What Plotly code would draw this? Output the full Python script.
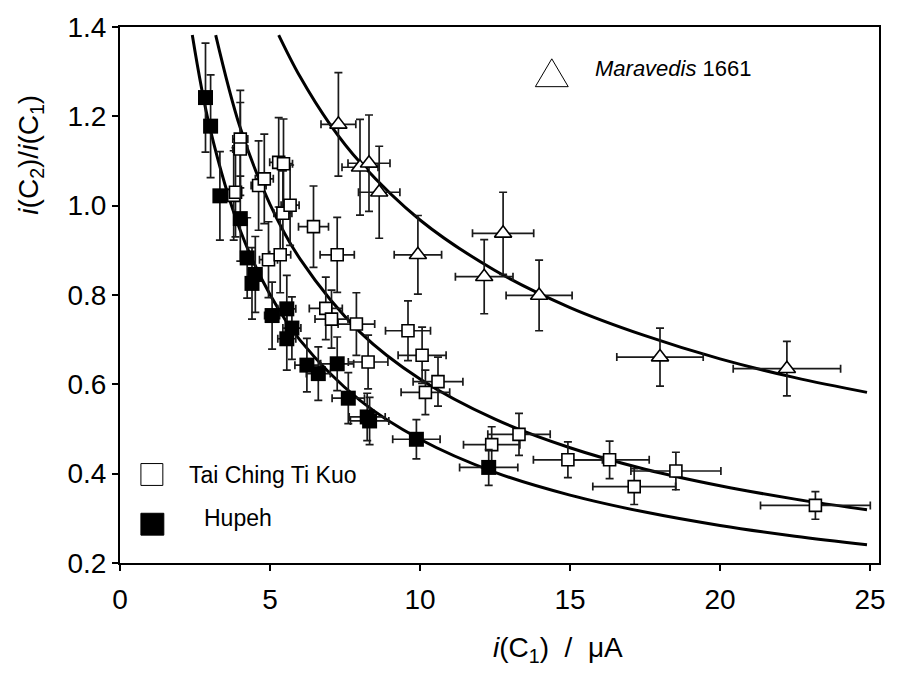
import plotly.graph_objects as go

# ---------------- data ----------------
hupeh_x = [2.85, 3.02, 3.33, 4.01, 4.24, 4.51, 4.40, 5.07, 5.56, 5.73, 5.56, 6.23, 6.61, 7.24, 7.61, 8.24, 8.32, 9.88, 12.29]
hupeh_y = [1.242, 1.178, 1.022, 0.971, 0.883, 0.846, 0.826, 0.754, 0.769, 0.726, 0.702, 0.643, 0.624, 0.646, 0.569, 0.527, 0.518, 0.477, 0.414]
hupeh_yerr = [0.122, 0.115, 0.099, 0.095, 0.09, 0.085, 0.08, 0.075, 0.075, 0.07, 0.07, 0.06, 0.06, 0.06, 0.057, 0.053, 0.053, 0.044, 0.04]
hupeh_xerr = [0.12, 0.12, 0.15, 0.15, 0.2, 0.2, 0.2, 0.25, 0.3, 0.3, 0.3, 0.4, 0.4, 0.55, 0.54, 0.6, 0.64, 0.79, 0.97]

tai_x = [3.79, 3.85, 4.01, 4.01, 4.62, 4.81, 5.29, 5.45, 5.43, 5.67, 4.95, 5.34, 6.45, 7.24, 6.86, 7.05, 7.88, 8.27, 9.60, 10.07, 10.60, 10.18, 12.39, 13.30, 14.93, 16.32, 17.14, 18.53, 23.18]
tai_y = [1.023, 1.030, 1.149, 1.127, 1.045, 1.060, 1.097, 1.094, 0.983, 1.001, 0.879, 0.890, 0.953, 0.890, 0.770, 0.746, 0.735, 0.650, 0.720, 0.665, 0.606, 0.582, 0.465, 0.488, 0.431, 0.431, 0.371, 0.406, 0.329]
tai_yerr = [0.1, 0.1, 0.109, 0.104, 0.1, 0.1, 0.1, 0.1, 0.095, 0.09, 0.085, 0.085, 0.091, 0.084, 0.07, 0.065, 0.07, 0.06, 0.067, 0.063, 0.055, 0.05, 0.04, 0.047, 0.04, 0.042, 0.04, 0.042, 0.031]
tai_xerr = [0.2, 0.2, 0.25, 0.25, 0.25, 0.3, 0.3, 0.3, 0.3, 0.3, 0.3, 0.35, 0.5, 0.57, 0.55, 0.55, 0.61, 0.66, 0.75, 0.8, 0.83, 0.81, 0.94, 1.04, 1.15, 1.32, 1.38, 1.5, 1.83]

mar_x = [7.28, 8.00, 8.30, 8.64, 9.93, 12.77, 12.14, 13.97, 18.0, 22.23]
mar_y = [1.182, 1.086, 1.095, 1.03, 0.89, 0.938, 0.841, 0.799, 0.661, 0.635]
mar_yerr = [0.116, 0.107, 0.108, 0.103, 0.088, 0.092, 0.083, 0.079, 0.065, 0.061]
mar_xerr = [0.58, 0.6, 0.7, 0.69, 0.79, 1.02, 0.96, 1.1, 1.44, 1.79]

# fitted curves
fit_hupeh_x = [2.41, 3, 4, 5, 6, 8, 10, 12.5, 15, 17.5, 20, 22.5, 24.9]
fit_hupeh_y = [1.382, 1.173, 0.946, 0.801, 0.699, 0.564, 0.477, 0.403, 0.352, 0.314, 0.284, 0.260, 0.241]
fit_tai_x = [3.19, 4, 5, 6, 8, 10, 12.5, 15, 17.5, 20, 22.5, 24.9]
fit_tai_y = [1.382, 1.176, 1.003, 0.881, 0.717, 0.612, 0.522, 0.458, 0.410, 0.373, 0.343, 0.319]
fit_mar_x = [5.29, 6, 7, 8, 10, 12.5, 15, 17.5, 20, 22.5, 24.9]
fit_mar_y = [1.382, 1.289, 1.182, 1.097, 0.968, 0.855, 0.772, 0.709, 0.657, 0.615, 0.582]

x_ticks = [0, 5, 10, 15, 20, 25]
y_ticks = [0.2, 0.4, 0.6, 0.8, 1.0, 1.2, 1.4]

FONT = "Liberation Sans, Arial, sans-serif"
ERRC = "#1a1a1a"

fig = go.Figure()

def err(arr):
    return dict(type="data", array=arr, visible=True, color=ERRC, thickness=1.7, width=4)

for fx, fy in [(fit_hupeh_x, fit_hupeh_y), (fit_tai_x, fit_tai_y), (fit_mar_x, fit_mar_y)]:
    fig.add_trace(go.Scatter(x=fx, y=fy, mode="lines", line=dict(color="black", width=3, shape="spline"),
                             hoverinfo="skip", showlegend=False))

fig.add_trace(go.Scatter(x=tai_x, y=tai_y, mode="markers", error_x=err(tai_xerr), error_y=err(tai_yerr),
                         marker=dict(symbol="square", size=12, color="white", line=dict(color="black", width=1.6)),
                         showlegend=False))
fig.add_trace(go.Scatter(x=hupeh_x, y=hupeh_y, mode="markers", error_x=err(hupeh_xerr), error_y=err(hupeh_yerr),
                         marker=dict(symbol="square", size=15, color="black", line=dict(width=0)),
                         showlegend=False))
fig.add_trace(go.Scatter(x=mar_x, y=mar_y, mode="markers", error_x=err(mar_xerr), error_y=err(mar_yerr),
                         marker=dict(symbol="triangle-up", size=15, color="white", line=dict(color="black", width=1.6)),
                         showlegend=False))

L, R, T, B = 120, 16, 24, 111
W, H = 898, 674
pw, ph = W - L - R, H - T - B

def px(xp):
    return (xp - L) / pw

def py(yp):
    return (H - B - yp) / ph

shapes = [
    dict(type="path", xref="paper", yref="paper",
         path=f"M {px(537)},{py(84)} L {px(570)},{py(84)} L {px(553.5)},{py(56)} Z",
         line=dict(color="black", width=1), fillcolor="white"),
    dict(type="rect", xref="paper", yref="paper", x0=px(141), x1=px(163), y0=py(485), y1=py(463),
         line=dict(color="black", width=1), fillcolor="white"),
    dict(type="rect", xref="paper", yref="paper", x0=px(141), x1=px(164), y0=py(535), y1=py(513),
         line=dict(color="black", width=1), fillcolor="black"),
]

annotations = [
    dict(text="<i>Maravedis</i> 1661", x=px(757), y=py(66), xref="paper", yref="paper",
         xanchor="right", yanchor="middle", showarrow=False, font=dict(size=22, color="black", family=FONT)),
    dict(text="Tai Ching Ti Kuo", x=px(187), y=py(475), xref="paper", yref="paper",
         xanchor="left", yanchor="middle", showarrow=False, font=dict(size=23, color="black", family=FONT)),
    dict(text="Hupeh", x=px(202), y=py(518), xref="paper", yref="paper",
         xanchor="left", yanchor="middle", showarrow=False, font=dict(size=23, color="black", family=FONT)),
    dict(text="<i>i</i>(C<sub>1</sub>)  /  μA", x=px(560), y=py(650), xref="paper", yref="paper",
         xanchor="center", yanchor="middle", showarrow=False, font=dict(size=28, color="black", family=FONT)),
    dict(text="<i>i</i>(C<sub>2</sub>)/<i>i</i>(C<sub>1</sub>)", x=px(30), y=py(152), xref="paper", yref="paper",
         xanchor="center", yanchor="middle", textangle=-90, showarrow=False,
         font=dict(size=28, color="black", family=FONT)),
]

fig.update_layout(
    width=W, height=H, margin=dict(l=L, r=R, t=T, b=B),
    plot_bgcolor="white", paper_bgcolor="white",
    font=dict(family=FONT, color="black"),
    shapes=shapes, annotations=annotations, showlegend=False,
)
fig.update_xaxes(range=[0, 25.3], tickvals=x_ticks, ticktext=[str(v) for v in x_ticks],
                 showgrid=False, zeroline=False, showline=True, linecolor="black", linewidth=2,
                 mirror=True, ticks="outside", ticklen=6, tickwidth=2, tickcolor="black",
                 ticklabelstandoff=4,
                 tickfont=dict(size=28, family=FONT, color="black"))
fig.update_yaxes(range=[0.2, 1.4], tickvals=y_ticks, ticktext=[f"{v:.1f}" for v in y_ticks],
                 showgrid=False, zeroline=False, showline=True, linecolor="black", linewidth=2,
                 mirror=True, ticks="outside", ticklen=6, tickwidth=2, tickcolor="black",
                 tickfont=dict(size=28, family=FONT, color="black"))

fig.write_html("out.html")
